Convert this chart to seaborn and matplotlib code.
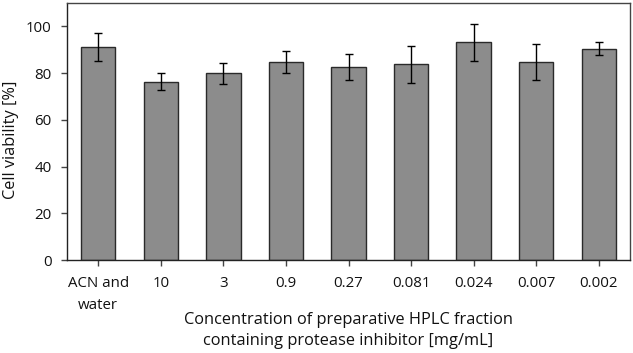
import matplotlib
matplotlib.use("Agg")
import matplotlib.pyplot as plt
import seaborn as sns
import pandas as pd
import numpy as np

categories = ["ACN and\nwater", "10", "3", "0.9", "0.27", "0.081", "0.024", "0.007", "0.002"]
viability = [91.2, 76.3, 80.0, 84.9, 82.6, 83.8, 93.2, 84.7, 90.5]
errors = [6.0, 3.7, 4.5, 4.7, 5.7, 8.0, 7.9, 7.8, 2.9]
y_ticks = [0, 20, 40, 60, 80, 100]

sns.set_style("white")
plt.rcParams['font.family'] = ['Open Sans', 'DejaVu Sans']

df = pd.DataFrame({"cat": categories, "val": viability, "err": errors})

fig = plt.figure(figsize=(6.33, 3.53), dpi=100)
ax = fig.add_axes([67/633, 1 - 260/353, (630-67)/633, (260-3)/353])

sns.barplot(data=df, x="cat", y="val", order=categories, color="#8c8c8c",
            edgecolor="#2a2a2a", linewidth=1.0, width=0.55, errorbar=None,
            saturation=1, ax=ax)
ax.errorbar(np.arange(len(categories)), df["val"], yerr=df["err"], fmt="none",
            ecolor="black", elinewidth=1.0, capsize=3, capthick=1.0)

ax.set_xlim(-0.5, len(categories) - 0.5)
ax.set_ylim(0, 110)
ax.set_yticks(y_ticks)
ax.set_ylabel("Cell viability [%]", fontsize=11.8, color="#111111", va="center")
ax.yaxis.set_label_coords(-(67 - 11) / 563, 0.467)
ax.set_xlabel("Concentration of preparative HPLC fraction\ncontaining protease inhibitor [mg/mL]",
              fontsize=11.8, linespacing=1.47, color="#111111", va="center")
ax.xaxis.set_label_coords(0.5, -(330.5 - 260) / 257)
ax.tick_params(axis="both", labelsize=10.8, length=4, width=1, color="#444444",
               direction="out", bottom=True, left=True, labelcolor="#111111")
ax.tick_params(axis="x", pad=7.5)
ax.tick_params(axis="y", pad=7)
for lbl in ax.get_xticklabels():
    lbl.set_linespacing(1.65)
for s in ax.spines.values():
    s.set_visible(True)
    s.set_color("#444444")
    s.set_linewidth(1.0)
ax.spines["bottom"].set_color("#222222")
ax.spines["left"].set_color("#222222")

fig.savefig("out.png", dpi=100)
